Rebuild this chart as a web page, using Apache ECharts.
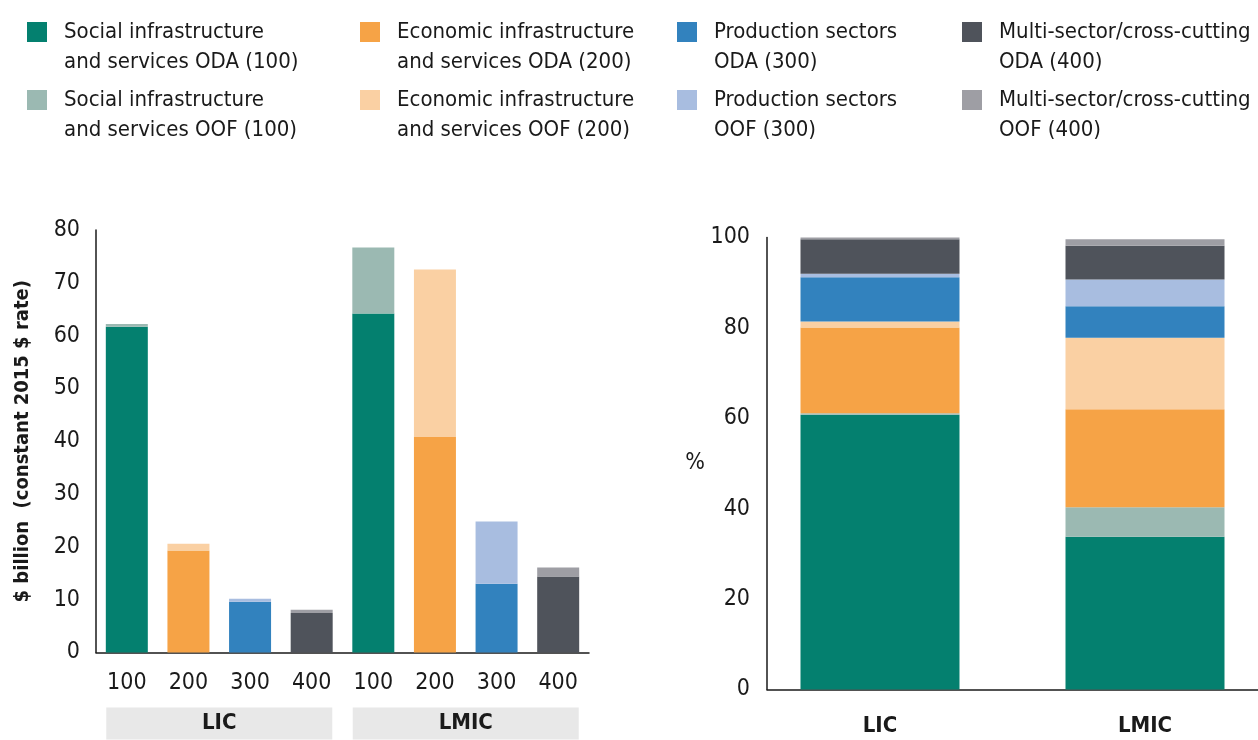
<!DOCTYPE html>
<html>
<head>
<meta charset="utf-8">
<script src="https://cdn.jsdelivr.net/npm/echarts@6/dist/echarts.min.js"></script>
<style>
  html, body { margin: 0; padding: 0; background: #fff; }
  #chart { width: 1258px; height: 740px; }
</style>
</head>
<body>
<div id="chart"></div>
<script>
const groups = ['LIC', 'LMIC'];
const sectorCodes = ['100', '200', '300', '400'];
const seriesNames = [
  'Social infrastructure\nand services ODA (100)',
  'Social infrastructure\nand services OOF (100)',
  'Economic infrastructure\nand services ODA (200)',
  'Economic infrastructure\nand services OOF (200)',
  'Production sectors\nODA (300)',
  'Production sectors\nOOF (300)',
  'Multi-sector/cross-cutting\nODA (400)',
  'Multi-sector/cross-cutting\nOOF (400)'
];
const colors = ['#04806f', '#9bb9b2', '#f6a346', '#fad0a3', '#3282be', '#a8bde0', '#4f535b', '#9e9ea4'];

// $ billion, by sector code 100..400
const licOda = [61.7, 19.3, 9.6, 7.5];
const licOof = [0.5, 1.3, 0.6, 0.6];
const lmicOda = [64.2, 40.8, 13.0, 14.4];
const lmicOof = [12.5, 31.7, 11.8, 1.7];

// % share, same order as seriesNames
const licShare = [60.8, 0.3, 19.0, 1.3, 9.8, 0.8, 7.6, 0.4];
const lmicShare = [33.8, 6.5, 21.7, 15.8, 7.0, 5.9, 7.5, 1.4];

const yTicksLeft = [0, 80, 10];
const yTicksRight = [0, 100, 20];

const FONT = "'Liberation Sans Narrow', 'DejaVu Sans Condensed', sans-serif";
const INK = '#1a1a1a';

const leftCats = [];
groups.forEach(g => sectorCodes.forEach(c => leftCats.push(g + ' ' + c)));
const oda = [licOda, lmicOda];
const oof = [licOof, lmicOof];

// right panel: groups sit at 0 and 1, axis runs a little past them on both sides
const rightPad = 0.4264;

const chart = echarts.init(document.getElementById('chart'));

const series = [];
seriesNames.forEach((name, i) => {
  const sector = Math.floor(i / 2);
  const src = i % 2 ? oof : oda;
  series.push({
    name: name,
    type: 'bar',
    stack: 'left',
    xAxisIndex: 0,
    yAxisIndex: 0,
    barWidth: 42,
    itemStyle: { color: colors[i] },
    data: leftCats.map((c, k) => (k % 4 === sector ? src[Math.floor(k / 4)][sector] : 0))
  });
});
seriesNames.forEach((name, i) => {
  series.push({
    name: name,
    type: 'bar',
    stack: 'right',
    xAxisIndex: 2,
    yAxisIndex: 1,
    barWidth: 159,
    itemStyle: { color: colors[i] },
    // value first so the stack runs on y
    encode: { x: 1, y: 0 },
    data: [[licShare[i], 0], [lmicShare[i], 1]]
  });
});

// one legend per item so the 4 x 2 layout matches
const colLeft = [27, 360, 677, 962];
const rowTop = [-13, 55];
const legends = seriesNames.map((name, i) => ({
  data: [name],
  left: colLeft[Math.floor(i / 2)],
  top: rowTop[i % 2],
  padding: 0,
  itemWidth: 20,
  itemHeight: 20,
  icon: 'rect',
  selectedMode: false,
  formatter: n => '\n' + n,
  textStyle: {
    fontFamily: FONT,
    fontSize: 22,
    lineHeight: 30,
    color: INK,
    padding: [0, 0, 0, 12]
  }
}));

const axisLine = { show: true, onZero: false, lineStyle: { color: INK, width: 1.5 } };
const labelStyle = { fontFamily: FONT, fontSize: 23, color: INK };

chart.setOption({
  animation: false,
  color: colors,
  legend: legends,
  grid: [
    { left: 96, right: 669, top: 230, bottom: 87.5 },
    { left: 767, right: 0, top: 237.5, bottom: 50.5 }
  ],
  xAxis: [
    {
      gridIndex: 0, type: 'category', position: 'bottom', data: leftCats,
      axisLine: axisLine, axisTick: { show: false },
      axisLabel: Object.assign({ margin: 19, formatter: v => v.split(' ')[1] }, labelStyle)
    },
    {
      gridIndex: 0, type: 'category', position: 'bottom', data: groups,
      axisLine: { show: false }, axisTick: { show: false },
      axisLabel: {
        margin: 55, fontFamily: FONT, fontSize: 22, fontWeight: 'bold', color: INK,
        backgroundColor: '#e8e8e8', width: 226, height: 32, lineHeight: 32, align: 'center'
      }
    },
    {
      gridIndex: 1, type: 'value', position: 'bottom',
      min: -rightPad, max: groups.length - 1 + rightPad,
      axisLine: axisLine, axisTick: { show: false }, splitLine: { show: false },
      axisLabel: {
        customValues: groups.map((g, i) => i),
        formatter: v => groups[Math.round(v)],
        margin: 26, fontFamily: FONT, fontSize: 22, fontWeight: 'bold', color: INK
      }
    }
  ],
  yAxis: [
    {
      gridIndex: 0, type: 'value', position: 'left',
      min: yTicksLeft[0], max: yTicksLeft[1], interval: yTicksLeft[2],
      axisLine: axisLine, axisTick: { show: false }, splitLine: { show: false },
      axisLabel: Object.assign({ margin: 16 }, labelStyle),
      name: '$ billion  (constant 2015 $ rate)',
      nameLocation: 'middle', nameGap: 63,
      nameTextStyle: { fontFamily: FONT, fontSize: 20, fontWeight: 'bold', color: INK }
    },
    {
      gridIndex: 1, type: 'value', position: 'left',
      min: yTicksRight[0], max: yTicksRight[1], interval: yTicksRight[2],
      axisLine: axisLine, axisTick: { show: false }, splitLine: { show: false },
      axisLabel: Object.assign({ margin: 17 }, labelStyle),
      name: '%', nameLocation: 'middle', nameRotate: 0, nameGap: 62,
      nameTextStyle: { fontFamily: FONT, fontSize: 23, color: INK }
    }
  ],
  series: series
});
</script>
</body>
</html>
